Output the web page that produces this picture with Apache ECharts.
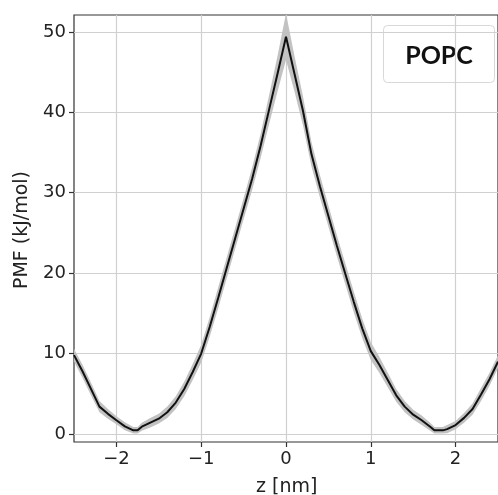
<!DOCTYPE html>
<html>
<head>
<meta charset="utf-8">
<script src="https://cdn.jsdelivr.net/npm/echarts@6/dist/echarts.min.js"></script>
<style>
html,body{margin:0;padding:0;background:#fff;}
#chart{width:498px;height:495px;}
</style>
</head>
<body>
<div id="chart"></div>
<script>
const zValues = [-2.5,-2.4,-2.3,-2.2,-2.1,-2.0,-1.9,-1.8,-1.75,-1.7,-1.6,-1.5,-1.4,-1.3,-1.2,-1.1,-1.0,-0.9,-0.8,-0.7,-0.6,-0.5,-0.4,-0.3,-0.2,-0.1,0,0.1,0.2,0.3,0.4,0.5,0.6,0.7,0.8,0.9,1.0,1.1,1.2,1.3,1.4,1.5,1.6,1.7,1.75,1.85,1.9,2.0,2.1,2.2,2.3,2.4,2.5];
const pmfValues = [9.8,7.8,5.6,3.4,2.5,1.7,0.95,0.45,0.45,0.9,1.4,1.9,2.7,3.9,5.6,7.7,10.0,13.3,16.9,20.6,24.3,28.0,31.7,35.8,40.3,44.8,49.4,44.8,40.2,34.8,30.8,27.1,23.4,19.9,16.4,13.1,10.3,8.6,6.7,4.8,3.4,2.4,1.7,0.9,0.45,0.45,0.6,1.1,2.0,3.1,4.9,6.8,9.0];
const pmfErr = [0.8,0.8,0.8,0.7,0.6,0.5,0.5,0.4,0.4,0.5,0.6,0.6,0.7,0.8,0.9,1.0,1.1,1.2,1.3,1.3,1.3,1.3,1.4,1.5,1.8,2.2,2.9,2.2,1.8,1.5,1.4,1.3,1.3,1.3,1.3,1.2,1.1,1.0,0.9,0.8,0.7,0.6,0.6,0.5,0.4,0.4,0.5,0.5,0.6,0.7,0.8,0.8,0.8];
const xTicks = [-2,-1,0,1,2];
const yTicks = [0,10,20,30,40,50];
const xTitle = 'z [nm]';
const yTitle = 'PMF (kJ/mol)';
const legendText = 'POPC';

const lineData = zValues.map((z,i)=>[z,pmfValues[i]]);
const upperPts = zValues.map((z,i)=>[z,pmfValues[i]+pmfErr[i]]);
const lowerPts = zValues.map((z,i)=>[z,pmfValues[i]-pmfErr[i]]);

const chart = echarts.init(document.getElementById('chart'), null, {renderer:'canvas'});
const fontFam = 'DejaVu Sans';
const fmt = v => (v<0 ? '\u2212'+Math.abs(v) : String(v));
chart.setOption({
  animation:false,
  backgroundColor:'#fff',
  grid:{left:74,top:15,right:-5,bottom:53,show:true,borderColor:'#333',borderWidth:1.2,backgroundColor:'transparent'},
  xAxis:{
    type:'value',min:-2.5,max:2.5,
    axisLine:{show:false,onZero:false},
    axisTick:{show:true,length:5,lineStyle:{color:'#333',width:1.2},customValues:xTicks},
    axisLabel:{customValues:xTicks,formatter:fmt,fontFamily:fontFam,fontSize:18,color:'#222',margin:8},
    splitLine:{show:true,lineStyle:{color:'#d0d0d0',width:1.2}}
  },
  yAxis:{
    type:'value',min:-1,max:52.1,
    axisLine:{show:false,onZero:false},
    axisTick:{show:true,length:5,lineStyle:{color:'#333',width:1.2},customValues:yTicks},
    axisLabel:{customValues:yTicks,fontFamily:fontFam,fontSize:18,color:'#222',margin:8},
    splitLine:{show:true,lineStyle:{color:'#d0d0d0',width:1.2}}
  },
  series:[
    {type:'custom',data:[[0,0]],silent:true,z:1,clip:true,
     renderItem:function(params,api){
       const pts = upperPts.map(p=>api.coord(p)).concat(lowerPts.slice().reverse().map(p=>api.coord(p)));
       return {type:'polygon',shape:{points:pts},style:{fill:'#c2c2c2',stroke:'none'}};
     }},
    {type:'line',data:lineData,symbol:'none',lineStyle:{color:'#111',width:2},z:3}
  ],
  graphic:[
    {type:'text',left:256,top:478,style:{text:xTitle,font:'19px "DejaVu Sans"',fill:'#222'}},
    {type:'text',rotation:Math.PI/2,x:22,y:230,style:{text:yTitle,font:'19px "DejaVu Sans"',fill:'#222',align:'center',verticalAlign:'middle'}},
    {type:'group',left:383,top:25,children:[
      {type:'rect',shape:{x:0,y:0,width:111,height:57,r:4},style:{fill:'#fff',stroke:'#d8d8d8',lineWidth:1}},
      {type:'text',x:55.5,y:30,style:{text:legendText,font:'bold 25px Lato',fill:'#111',align:'center',verticalAlign:'middle'}}
    ]}
  ]
});
</script>
</body>
</html>
